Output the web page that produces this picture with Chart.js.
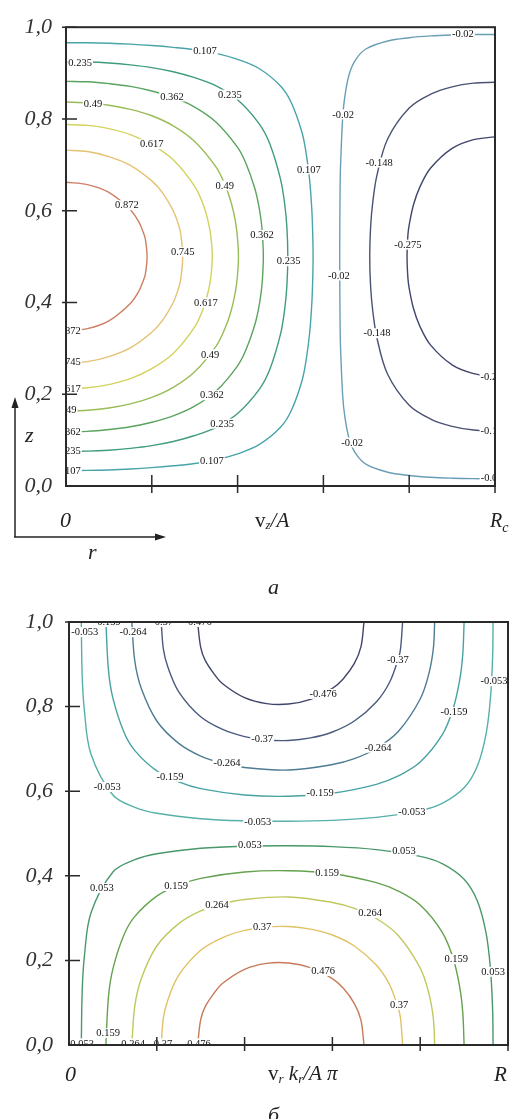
<!DOCTYPE html>
<html>
<head>
<meta charset="utf-8">
<script src="https://cdn.jsdelivr.net/npm/chart.js@4.4.0/dist/chart.umd.min.js"></script>
<style>
  html, body { margin: 0; padding: 0; background: #fff; }
  body { width: 515px; height: 1119px; position: relative; overflow: hidden; }
  #wrapA { position: absolute; left: 0; top: 0; width: 515px; height: 560px; }
  #wrapB { position: absolute; left: 0; top: 560px; width: 515px; height: 559px; }
</style>
</head>
<body>
<div id="wrapA"><canvas id="chartA" width="515" height="560"></canvas></div>
<div id="wrapB"><canvas id="chartB" width="515" height="559"></canvas></div>
<script>
// axis ticks (r/R and z), shared by both panels
const R_TICKS = [0, 0.2, 0.4, 0.6, 0.8, 1.0];
const Z_TICKS = [0, 0.2, 0.4, 0.6, 0.8, 1.0];
const Z_TICK_LABELS = ['0,0', '0,2', '0,4', '0,6', '0,8', '1,0'];

// panel a: v_z/A contour levels and their lines [r, z]
const A_LEVELS = [0.872, 0.745, 0.617, 0.49, 0.362, 0.235, 0.107, -0.02, -0.148, -0.275];
const A_P0872 = [[0,0.338],[0.05,0.343],[0.1,0.36],[0.15,0.398],[0.17,0.425],[0.18,0.447],[0.185,0.462],[0.189,0.5],[0.185,0.538],[0.18,0.553],[0.17,0.575],[0.15,0.602],[0.1,0.64],[0.05,0.657],[0,0.662]];
const A_P0745 = [[0,0.268],[0.05,0.271],[0.1,0.282],[0.15,0.301],[0.2,0.335],[0.225,0.361],[0.25,0.4],[0.26,0.424],[0.267,0.448],[0.272,0.5],[0.267,0.552],[0.26,0.576],[0.25,0.6],[0.225,0.639],[0.2,0.665],[0.15,0.699],[0.1,0.718],[0.05,0.729],[0,0.732]];
const A_P0617 = [[0,0.212],[0.05,0.214],[0.1,0.221],[0.15,0.234],[0.2,0.256],[0.25,0.289],[0.3,0.347],[0.32,0.387],[0.33,0.418],[0.337,0.451],[0.341,0.5],[0.337,0.549],[0.33,0.582],[0.32,0.613],[0.3,0.653],[0.25,0.711],[0.2,0.744],[0.15,0.766],[0.1,0.779],[0.05,0.786],[0,0.788]];
const A_P049 = [[0,0.163],[0.05,0.165],[0.1,0.17],[0.15,0.179],[0.2,0.193],[0.25,0.215],[0.3,0.249],[0.35,0.305],[0.37,0.342],[0.385,0.382],[0.395,0.424],[0.4,0.462],[0.402,0.5],[0.4,0.538],[0.395,0.576],[0.385,0.618],[0.37,0.658],[0.35,0.695],[0.3,0.751],[0.25,0.785],[0.2,0.807],[0.15,0.821],[0.1,0.83],[0.05,0.835],[0,0.837]];
const A_P0362 = [[0,0.118],[0.05,0.119],[0.1,0.123],[0.15,0.129],[0.2,0.139],[0.25,0.153],[0.3,0.174],[0.35,0.207],[0.4,0.262],[0.42,0.298],[0.44,0.351],[0.45,0.392],[0.455,0.423],[0.458,0.452],[0.46,0.5],[0.458,0.548],[0.455,0.577],[0.45,0.608],[0.44,0.649],[0.42,0.702],[0.4,0.738],[0.35,0.793],[0.3,0.826],[0.25,0.847],[0.2,0.861],[0.15,0.871],[0.1,0.877],[0.05,0.881],[0,0.882]];
const A_P0235 = [[0,0.076],[0.05,0.076],[0.1,0.078],[0.15,0.082],[0.2,0.088],[0.25,0.097],[0.3,0.11],[0.35,0.128],[0.4,0.158],[0.45,0.21],[0.475,0.254],[0.5,0.331],[0.51,0.387],[0.515,0.438],[0.517,0.5],[0.515,0.562],[0.51,0.613],[0.5,0.669],[0.475,0.746],[0.45,0.79],[0.4,0.842],[0.35,0.872],[0.3,0.89],[0.25,0.903],[0.2,0.912],[0.15,0.918],[0.1,0.922],[0.05,0.924],[0,0.924]];
const A_P0107 = [[0,0.034],[0.05,0.034],[0.1,0.035],[0.15,0.037],[0.2,0.04],[0.25,0.044],[0.3,0.049],[0.35,0.057],[0.4,0.07],[0.45,0.09],[0.5,0.128],[0.525,0.164],[0.55,0.229],[0.56,0.276],[0.568,0.334],[0.573,0.398],[0.575,0.447],[0.576,0.5],[0.575,0.553],[0.573,0.602],[0.568,0.666],[0.56,0.724],[0.55,0.771],[0.525,0.836],[0.5,0.872],[0.45,0.91],[0.4,0.93],[0.35,0.943],[0.3,0.951],[0.25,0.956],[0.2,0.96],[0.15,0.963],[0.1,0.965],[0.05,0.966],[0,0.966]];
const A_N002 = [[1,0.016],[0.95,0.016],[0.9,0.017],[0.85,0.019],[0.8,0.023],[0.75,0.03],[0.7,0.047],[0.675,0.071],[0.66,0.103],[0.65,0.151],[0.645,0.196],[0.64,0.301],[0.639,0.344],[0.638,0.5],[0.639,0.656],[0.64,0.699],[0.645,0.804],[0.65,0.849],[0.66,0.897],[0.675,0.929],[0.7,0.953],[0.75,0.97],[0.8,0.977],[0.85,0.981],[0.9,0.983],[0.95,0.984],[1,0.984]];
const A_N0148 = [[1,0.12],[0.95,0.122],[0.9,0.13],[0.85,0.146],[0.8,0.176],[0.75,0.243],[0.725,0.322],[0.715,0.382],[0.71,0.436],[0.708,0.5],[0.71,0.564],[0.715,0.618],[0.725,0.678],[0.75,0.757],[0.8,0.824],[0.85,0.854],[0.9,0.87],[0.95,0.878],[1,0.88]];
const A_N0275 = [[1,0.239],[0.95,0.245],[0.9,0.264],[0.85,0.307],[0.825,0.348],[0.81,0.387],[0.8,0.431],[0.797,0.453],[0.795,0.5],[0.797,0.547],[0.8,0.569],[0.81,0.613],[0.825,0.652],[0.85,0.693],[0.9,0.736],[0.95,0.755],[1,0.761]];
const A_LINES = [A_P0872, A_P0745, A_P0617, A_P049, A_P0362, A_P0235, A_P0107, A_N002, A_N0148, A_N0275];

// panel б: v_r k_r/(A pi) contour levels and their lines [r, z]
const B_LEVELS = [0.476, 0.37, 0.264, 0.159, 0.053, -0.053, -0.159, -0.264, -0.37, -0.476];
const B_P0476 = [[0.293,0],[0.3,0.06],[0.31,0.09],[0.33,0.122],[0.35,0.146],[0.4,0.179],[0.45,0.193],[0.5,0.194],[0.55,0.183],[0.6,0.157],[0.625,0.134],[0.65,0.098],[0.665,0.059],[0.672,0]];
const B_P037 = [[0.21,0],[0.215,0.064],[0.225,0.106],[0.25,0.165],[0.3,0.224],[0.35,0.254],[0.4,0.271],[0.45,0.279],[0.5,0.28],[0.55,0.274],[0.6,0.26],[0.65,0.234],[0.7,0.189],[0.73,0.143],[0.75,0.087],[0.755,0.065],[0.76,0]];
const B_P0264 = [[0.143,0],[0.15,0.093],[0.165,0.158],[0.2,0.234],[0.25,0.287],[0.3,0.317],[0.35,0.334],[0.4,0.344],[0.5,0.35],[0.6,0.337],[0.65,0.323],[0.7,0.299],[0.75,0.259],[0.8,0.182],[0.82,0.121],[0.83,0.062],[0.833,0]];
const B_P0159 = [[0.084,0],[0.09,0.115],[0.1,0.18],[0.125,0.26],[0.15,0.304],[0.2,0.352],[0.25,0.378],[0.3,0.394],[0.4,0.409],[0.5,0.412],[0.6,0.405],[0.7,0.384],[0.75,0.364],[0.8,0.331],[0.85,0.267],[0.875,0.205],[0.89,0.137],[0.897,0.076],[0.9,0]];
const B_P0053 = [[0.028,0],[0.03,0.126],[0.035,0.209],[0.05,0.312],[0.1,0.409],[0.15,0.438],[0.2,0.452],[0.3,0.465],[0.4,0.47],[0.5,0.471],[0.6,0.469],[0.7,0.462],[0.8,0.446],[0.85,0.429],[0.9,0.392],[0.93,0.341],[0.95,0.265],[0.96,0.18],[0.965,0.082],[0.966,0]];
const B_N0053 = [[0.028,1],[0.03,0.874],[0.035,0.791],[0.05,0.688],[0.1,0.591],[0.15,0.562],[0.2,0.548],[0.3,0.535],[0.4,0.53],[0.5,0.529],[0.6,0.531],[0.7,0.538],[0.8,0.554],[0.85,0.571],[0.9,0.608],[0.93,0.659],[0.95,0.735],[0.96,0.82],[0.965,0.918],[0.966,1]];
const B_N0159 = [[0.084,1],[0.09,0.885],[0.1,0.82],[0.125,0.74],[0.15,0.696],[0.2,0.648],[0.25,0.622],[0.3,0.606],[0.4,0.591],[0.5,0.588],[0.6,0.595],[0.7,0.616],[0.75,0.636],[0.8,0.669],[0.85,0.733],[0.875,0.795],[0.89,0.863],[0.897,0.924],[0.9,1]];
const B_N0264 = [[0.143,1],[0.15,0.907],[0.165,0.842],[0.2,0.766],[0.25,0.713],[0.3,0.683],[0.35,0.666],[0.4,0.656],[0.5,0.65],[0.6,0.663],[0.65,0.677],[0.7,0.701],[0.75,0.741],[0.8,0.818],[0.82,0.879],[0.83,0.938],[0.833,1]];
const B_N037 = [[0.21,1],[0.215,0.936],[0.225,0.894],[0.25,0.835],[0.3,0.776],[0.35,0.746],[0.4,0.729],[0.45,0.721],[0.5,0.72],[0.55,0.726],[0.6,0.74],[0.65,0.766],[0.7,0.811],[0.73,0.857],[0.75,0.913],[0.755,0.935],[0.76,1]];
const B_N0476 = [[0.293,1],[0.3,0.94],[0.31,0.91],[0.33,0.878],[0.35,0.854],[0.4,0.821],[0.45,0.807],[0.5,0.806],[0.55,0.817],[0.6,0.843],[0.625,0.866],[0.65,0.902],[0.665,0.941],[0.672,1]];
const B_LINES = [B_P0476, B_P037, B_P0264, B_P0159, B_P0053, B_N0053, B_N0159, B_N0264, B_N037, B_N0476];

// contour line colours, same order as the levels
const A_COLORS = ['#cc7f62', '#e4c272', '#d2d25e', '#98bc56', '#5aa45e', '#3f9c7c', '#48a4aa', '#6a9eb6', '#4a5274', '#40466c'];
const B_COLORS = ['#c87a58', '#e0c264', '#c0c85c', '#64a24e', '#48986a', '#56b0aa', '#48a2a2', '#4e7c92', '#4a5a7e', '#41456a'];

// inline contour labels: [text, r, z]
const A_LABELS = [
  ['0.107', 0.324, 0.948], ['0.235', 0.033, 0.922], ['0.362', 0.247, 0.849], ['0.235', 0.382, 0.853],
  ['0.49', 0.063, 0.834], ['0.617', 0.2, 0.745], ['0.872', 0.142, 0.612], ['0.49', 0.37, 0.655],
  ['0.745', 0.272, 0.51], ['0.362', 0.457, 0.547], ['0.107', 0.566, 0.69], ['0.235', 0.519, 0.49],
  ['-0.02', 0.646, 0.81], ['-0.02', 0.636, 0.459], ['-0.02', 0.667, 0.095], ['-0.148', 0.73, 0.705],
  ['-0.148', 0.725, 0.333], ['-0.275', 0.797, 0.526], ['-0.02', 0.925, 0.985],
  ['-0.275', 0.998, 0.239], ['-0.148', 0.998, 0.12], ['-0.02', 0.992, 0.017],
  ['0.872', 0.007, 0.338], ['0.745', 0.007, 0.27], ['0.617', 0.007, 0.213], ['0.49', 0.003, 0.166],
  ['0.362', 0.007, 0.119], ['0.235', 0.007, 0.076], ['0.107', 0.007, 0.034],
  ['0.617', 0.326, 0.4], ['0.49', 0.336, 0.287], ['0.362', 0.34, 0.198], ['0.235', 0.364, 0.136], ['0.107', 0.34, 0.056]
];
const B_LABELS = [
  ['-0.053', 0.036, 0.976], ['-0.159', 0.087, 1.0], ['-0.264', 0.146, 0.976], ['-0.37', 0.212, 1.0], ['-0.476', 0.294, 1.0],
  ['-0.37', 0.749, 0.91], ['-0.053', 0.968, 0.86], ['-0.476', 0.579, 0.83], ['-0.159', 0.877, 0.787],
  ['-0.37', 0.44, 0.723], ['-0.264', 0.704, 0.703], ['-0.264', 0.36, 0.667], ['-0.159', 0.23, 0.634],
  ['-0.159', 0.572, 0.596], ['-0.053', 0.087, 0.61], ['-0.053', 0.781, 0.551], ['-0.053', 0.43, 0.527],
  ['0.053', 0.412, 0.473], ['0.053', 0.763, 0.459], ['0.053', 0.075, 0.371], ['0.159', 0.244, 0.376],
  ['0.159', 0.588, 0.407], ['0.264', 0.337, 0.331], ['0.264', 0.686, 0.312], ['0.37', 0.44, 0.279],
  ['0.476', 0.579, 0.175], ['0.159', 0.882, 0.203], ['0.053', 0.966, 0.173], ['0.37', 0.752, 0.095],
  ['0.159', 0.089, 0.028], ['0.053', 0.03, 0.004], ['0.264', 0.146, 0.004], ['0.37', 0.214, 0.004], ['0.476', 0.296, 0.004]
];

const SERIF = '"Liberation Serif", "Times New Roman", serif';

function makeDatasets(lines, levels, colors) {
  return lines.map((pts, i) => ({
    label: String(levels[i]),
    data: pts.map(p => ({ x: p[0], y: p[1] })),
    showLine: true,
    borderColor: colors[i],
    borderWidth: 1.4,
    pointRadius: 0,
    tension: 0.35,
    fill: false
  }));
}

// draw text pieces one after another: [text, font, dy]
function drawRich(ctx, x, y, parts) {
  let cx = x;
  parts.forEach(([t, font, dy]) => {
    ctx.font = font;
    ctx.fillText(t, cx, y + (dy || 0));
    cx += ctx.measureText(t).width;
  });
}

function arrow(ctx, x1, y1, x2, y2) {
  const ang = Math.atan2(y2 - y1, x2 - x1);
  ctx.beginPath();
  ctx.moveTo(x1, y1);
  ctx.lineTo(x2 - 8 * Math.cos(ang), y2 - 8 * Math.sin(ang));
  ctx.stroke();
  ctx.beginPath();
  ctx.moveTo(x2, y2);
  ctx.lineTo(x2 - 11 * Math.cos(ang) + 3.5 * Math.sin(ang), y2 - 11 * Math.sin(ang) - 3.5 * Math.cos(ang));
  ctx.lineTo(x2 - 11 * Math.cos(ang) - 3.5 * Math.sin(ang), y2 - 11 * Math.sin(ang) + 3.5 * Math.cos(ang));
  ctx.closePath();
  ctx.fill();
}

function framePlugin(labels, tickIn, tickOut, extra) {
  return {
    id: 'contourFrame',
    afterDatasetsDraw(chart) {
      const { ctx, chartArea: a } = chart;
      const x = chart.scales.x, y = chart.scales.y;

      // contour labels, cut by the plot frame
      ctx.save();
      ctx.beginPath();
      ctx.rect(a.left, a.top, a.right - a.left, a.bottom - a.top);
      ctx.clip();
      ctx.font = '10.5px ' + SERIF;
      ctx.textAlign = 'center';
      ctx.textBaseline = 'middle';
      labels.forEach(([t, r, z]) => {
        const px = x.getPixelForValue(r), py = y.getPixelForValue(z);
        const w = ctx.measureText(t).width + 2;
        ctx.fillStyle = '#fff';
        ctx.fillRect(px - w / 2, py - 5, w, 10);
        ctx.fillStyle = '#111';
        ctx.fillText(t, px, py + 0.5);
      });
      ctx.restore();

      // frame and tick marks
      ctx.save();
      ctx.strokeStyle = '#2a2a2a';
      ctx.lineWidth = 2;
      ctx.strokeRect(a.left, a.top, a.right - a.left, a.bottom - a.top);
      ctx.lineWidth = 1.5;
      ctx.beginPath();
      R_TICKS.forEach(v => {
        if (v === 0) return;
        const px = x.getPixelForValue(v);
        ctx.moveTo(px, a.bottom - (v === 1 ? 0 : tickIn));
        ctx.lineTo(px, a.bottom + tickOut);
      });
      Z_TICKS.forEach(v => {
        if (v === 0) return;
        const py = y.getPixelForValue(v);
        ctx.moveTo(a.left - 4, py);
        ctx.lineTo(a.left + 11, py);
      });
      ctx.stroke();
      ctx.restore();
    },
    afterDraw(chart) {
      const ctx = chart.ctx;
      ctx.save();
      ctx.fillStyle = '#222';
      ctx.strokeStyle = '#222';
      ctx.textAlign = 'left';
      ctx.textBaseline = 'alphabetic';
      extra(ctx, chart);
      ctx.restore();
    }
  };
}

function makeChart(id, lines, levels, colors, labels, pad, axisWidth, labelPad, tickIn, tickOut, extra) {
  return new Chart(document.getElementById(id), {
    type: 'scatter',
    data: { datasets: makeDatasets(lines, levels, colors) },
    options: {
      responsive: false,
      animation: false,
      layout: { padding: pad },
      plugins: { legend: { display: false }, tooltip: { enabled: false } },
      scales: {
        x: { type: 'linear', min: 0, max: 1, display: false },
        y: {
          type: 'linear', min: 0, max: 1,
          afterFit: s => { s.width = axisWidth; },
          afterBuildTicks: s => { s.ticks = Z_TICKS.map(v => ({ value: v })); },
          grid: { display: false, drawTicks: false },
          border: { display: false },
          ticks: {
            padding: labelPad,
            color: '#333',
            font: { family: SERIF, style: 'italic', size: 22 },
            callback: (v, i) => Z_TICK_LABELS[i]
          }
        }
      }
    },
    plugins: [framePlugin(labels, tickIn, tickOut, extra)]
  });
}

makeChart('chartA', A_LINES, A_LEVELS, A_COLORS, A_LABELS,
  { top: 22, right: 20, bottom: 74, left: 0 }, 66, 14, 11, 7,
  (ctx) => {
    const it = 'italic 22px ' + SERIF;
    drawRich(ctx, 60, 527, [['0', it]]);
    drawRich(ctx, 255, 527, [['v', '21px ' + SERIF], ['z', 'italic 13px ' + SERIF, 2], ['/A', 'italic 21px ' + SERIF]]);
    drawRich(ctx, 490, 527, [['R', 'italic 20px ' + SERIF], ['c', 'italic 14px ' + SERIF, 5]]);
    drawRich(ctx, 25, 442, [['z', it]]);
    drawRich(ctx, 88, 559, [['r', it]]);
    ctx.lineWidth = 1.5;
    arrow(ctx, 15, 537, 15, 397);
    arrow(ctx, 14, 537, 166, 537);
  });

makeChart('chartB', B_LINES, B_LEVELS, B_COLORS, B_LABELS,
  { top: 62, right: 7, bottom: 74, left: 0 }, 69, 16, 8, 6,
  (ctx) => {
    const it = 'italic 22px ' + SERIF;
    // caption of the upper panel sits at the top of this canvas
    drawRich(ctx, 268, 34, [['a', it]]);
    drawRich(ctx, 65, 521, [['0', it]]);
    drawRich(ctx, 268, 520, [
      ['v', '21px ' + SERIF], ['r', 'italic 13px ' + SERIF, 3], [' k', 'italic 21px ' + SERIF],
      ['r', 'italic 13px ' + SERIF, 3], ['/A', 'italic 21px ' + SERIF], [' \u03c0', 'italic 21px ' + SERIF]
    ]);
    drawRich(ctx, 494, 521, [['R', 'italic 21px ' + SERIF]]);
    drawRich(ctx, 268, 562, [['\u0431', it]]);
  });
</script>
</body>
</html>
